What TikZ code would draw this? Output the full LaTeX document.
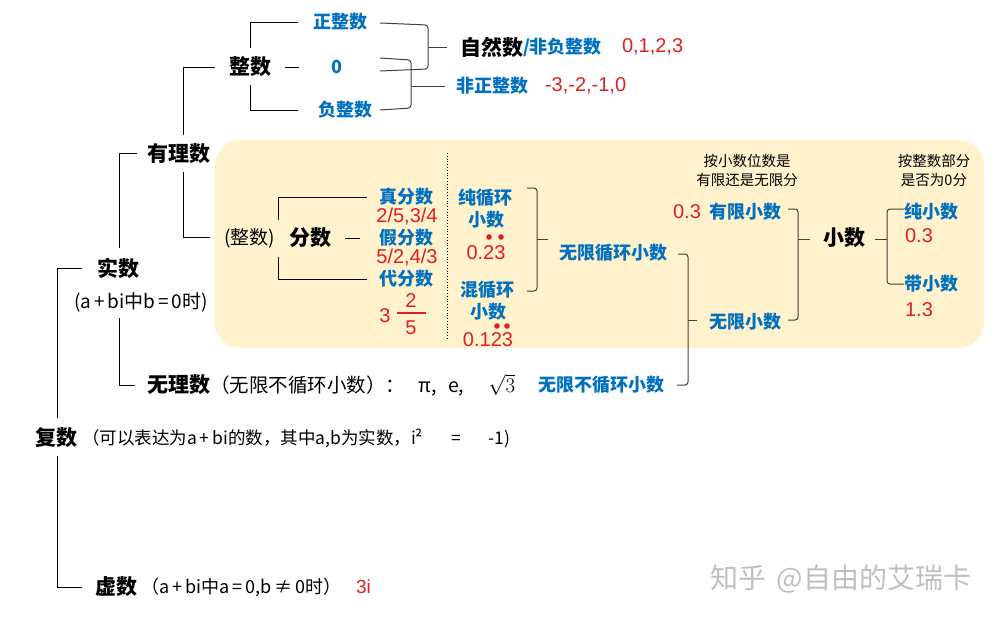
\documentclass[tikz,border=0pt]{standalone}
\usepackage{fontspec}
\setmainfont{Noto Sans CJK SC}
\newfontfamily\numfont{Liberation Sans}
\definecolor{myblue}{RGB}{0,112,192}
\definecolor{myred}{RGB}{225,30,35}
\definecolor{myyellow}{RGB}{255,242,204}
\definecolor{bracec}{RGB}{70,62,55}
\begin{document}
\begin{tikzpicture}[x=1pt,y=-1pt,
  base/.style={inner sep=0pt, outer sep=0pt},
  lblb/.style={base, font=\bfseries\fontsize{21}{21}\selectfont, text=black},
  blut/.style={base, font=\bfseries\fontsize{18}{18}\selectfont, text=myblue},
  redt/.style={base, font=\numfont\fontsize{20}{20}\selectfont, text=myred},
  txtt/.style={base, font=\fontsize{17.5}{17.5}\selectfont, text=black},
  notet/.style={base, font=\fontsize{14.5}{14.5}\selectfont, text=black},
  ln/.style={line width=1pt, draw=black},
  br/.style={line width=1pt, draw=bracec, rounded corners=3pt},
]
\useasboundingbox (0,0) rectangle (1006,619);
% yellow panel
\fill[myyellow, rounded corners=25pt] (215,140) rectangle (984,348);

% ---------- integers ----------
\node[lblb] (zhengshu) at (250,67) {整数};
\node[blut] (zzs) at (340,22) {正整数};
\node[blut] (zero) at (337,67) {0};
\node[blut] (fzs) at (345,110) {负整数};
\node[lblb, anchor=west] (ziran) at (460,47) {自然数};
\node[blut, anchor=west] (ffz) at (ziran.east) {/非负整数};
\node[redt, anchor=west] (nat) at (622,47) {0,1,2,3};
\node[blut, anchor=west] (fzz) at (456,86) {非正整数};
\node[redt, anchor=west] (npi) at (545,86) {-3,-2,-1,0};

\draw[ln] (298,22) -- (250,22) -- (250,48);
\draw[ln] (250,85) -- (250,110) -- (298,110);
\draw[ln] (285,67) -- (299,67);
\draw[br] (380,23) -- (428,25) -- (428,69) -- (380,71);
\draw[br] (428,47) -- (447,47);
\draw[br] (380,58) -- (411,60) -- (411,108) -- (380,110);
\draw[br] (411,86) -- (445,86);

% ---------- main tree ----------
\node[lblb] (youli) at (179,154) {有理数};
\node[lblb] (shishu) at (118,268) {实数};
\node[base, font=\fontsize{19}{19}\selectfont] (shishuc) at (141,302) {(a\hspace{3pt}+\hspace{3pt}bi中b\hspace{3pt}=\hspace{3pt}0时)};
\node[lblb, anchor=west] (wuli) at (147,385) {无理数};
\node[base, anchor=west, font=\fontsize{19.5}{19.5}\selectfont] (wulic) at (210,385) {（无限不循环小数）：\hspace{14pt}π,\hspace{11pt}e,\hspace{24pt}$\sqrt{3}$};
\node[blut, anchor=west] (wxbxh) at (538,385) {无限不循环小数};
\node[lblb, anchor=west] (fushu) at (35,438) {复数};
\node[txtt, anchor=west] (fushuc) at (82,438) {（可以表达为a\,+\,bi的数，其中a,b为实数，i²\hspace{28pt}=\hspace{28pt}-1)};
\node[lblb, anchor=west] (xushu) at (95,587) {虚数};
\node[base, anchor=west, font=\fontsize{18}{18}\selectfont] (xushuc) at (141,587) {（a\,+\,bi中a\,=\,0,b\,≠\,0时）};
\node[redt, anchor=west, font=\numfont\fontsize{19}{19}\selectfont] (three) at (356,587) {3i};

\draw[ln] (215,67) -- (183,67) -- (183,135);
\draw[ln] (183,172) -- (183,237) -- (210,237);
\draw[ln] (137,153) -- (119,153) -- (119,248);
\draw[ln] (119,318) -- (119,385) -- (135,385);
\draw[ln] (82,268) -- (57,268) -- (57,418);
\draw[ln] (57,456) -- (57,587) -- (82,587);

% ---------- fractions ----------
\node[base, anchor=west, font=\fontsize{19}{19}\selectfont] (zsp) at (224,238) {(整数)};
\node[lblb, anchor=west] (fenshu) at (289,238) {分数};
\node[blut] (zfs) at (406,197) {真分数};
\node[redt] (zfsn) at (407,217) {2/5,3/4};
\node[blut] (jfs) at (406,238) {假分数};
\node[redt] (jfsn) at (407,258) {5/2,4/3};
\node[blut] (dfs) at (406,279) {代分数};
\node[redt] (m3) at (385,316) {3};
\node[redt] (m2) at (411,301) {2};
\node[redt] (m5) at (411,328) {5};
\draw[myred, line width=1.6pt] (397,313) -- (426,313);

\draw[ln] (367,197) -- (278,197) -- (278,220);
\draw[ln] (278,257) -- (278,279) -- (367,279);
\draw[ln] (345,238) -- (360,238);

\draw[black, line width=0.8pt, dotted] (447,153) -- (447,338);

% ---------- decimals ----------
\node[blut] (cxh) at (485,198) {纯循环};
\node[blut] (cxhx) at (486,220) {小数};
\node[redt] (cxhn) at (486,253) {0.23};
\fill[myred] (489,237) circle (2.8);
\fill[myred] (501,237) circle (2.8);
\node[blut] (hxh) at (487,290) {混循环};
\node[blut] (hxhx) at (488,312) {小数};
\node[redt] (hxhn) at (488,340) {0.123};
\fill[myred] (497,326) circle (2.8);
\fill[myred] (507,326) circle (2.8);
\draw[br] (527,188) -- (537,188) -- (537,291) -- (527,291);
\draw[br] (537,239) -- (548,239);

\node[blut] (wxxh) at (613,253) {无限循环小数};
\draw[br] (678,254) -- (688,254) -- (688,385) -- (677,385);
\draw[br] (688,320) -- (697,320);

\node[notet] (n1a) at (747,161) {按小数位数是};
\node[notet] (n1b) at (747,180) {有限还是无限分};
\node[redt] (d03) at (687,212) {0.3};
\node[blut] (yxxs) at (745,212) {有限小数};
\node[blut] (wxxs) at (745,322) {无限小数};
\draw[br] (788,209) -- (798,209) -- (798,320) -- (788,320);
\draw[br] (798,239) -- (810,239);

\node[lblb] (xiaoshu) at (844,238) {小数};
\node[notet] (n2a) at (934,161) {按整数部分};
\node[notet] (n2b) at (934,180) {是否为0分};
\draw[br] (904,209) -- (887,209) -- (887,284) -- (904,284);
\draw[br] (875,239) -- (887,239);
\node[blut] (cxs) at (931,212) {纯小数};
\node[redt] (cxsn) at (919,236) {0.3};
\node[blut] (dxs) at (931,284) {带小数};
\node[redt] (dxsn) at (919,310) {1.3};

% watermark
\node[base, font=\fontsize{28}{28}\selectfont, text=black!25] (wm) at (841,579) {知乎\hspace{10pt}@自由的艾瑞卡};
\end{tikzpicture}
\end{document}
